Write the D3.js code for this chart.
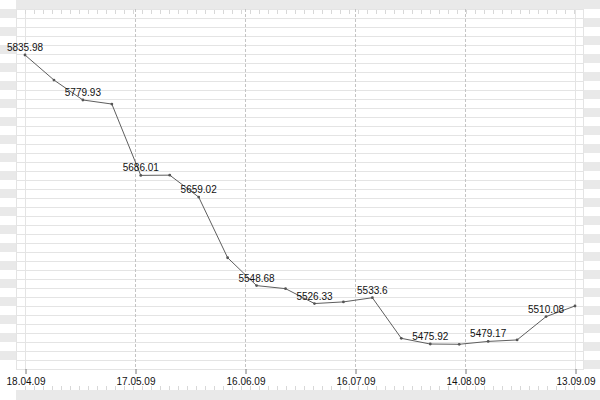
<!DOCTYPE html>
<html><head><meta charset="utf-8">
<script src="https://cdn.jsdelivr.net/npm/d3@7"></script>
<style>html,body{margin:0;padding:0;background:#fff;}svg{display:block;}</style>
</head><body><svg id="c" width="600" height="400"></svg>
<script>
const values = [5835.98, 5804.8, 5779.93, 5774.9, 5686.01, 5686.3, 5659.02, 5583.4, 5548.68, 5544.9,
                5526.33, 5528.4, 5533.6, 5483.0, 5475.92, 5475.6, 5479.17, 5481.0, 5510.08, 5523.3];
const labelEvery = 2;
const tickLabels = ["18.04.09","17.05.09","16.06.09","16.07.09","14.08.09","13.09.09"];

const W = 600, H = 400;
const plot = {left:16, right:584, top:9, bottom:369};
const svg = d3.select("#c");
const band = "#e9e9e9", grid = "#e4e4e4";

const x = d3.scaleLinear().domain([0, values.length-1]).range([25, 575]);
const y = d3.scaleLinear().domain([5444.8, 5893.3]).range([plot.bottom, plot.top]);

// outer bands
svg.append("rect").attr("x",plot.left).attr("y",0).attr("width",W-plot.left).attr("height",plot.top).attr("fill",band);
svg.append("rect").attr("x",plot.left).attr("y",390).attr("width",W-plot.left).attr("height",10).attr("fill",band);
// left stripes
for (let k=1; k*9 < plot.bottom; k+=2) {
  svg.append("rect").attr("x",0).attr("y",k*9).attr("width",plot.left).attr("height",9).attr("fill",band);
}
// right stripes
for (let k=2; k*9 < plot.bottom; k+=2) {
  svg.append("rect").attr("x",plot.right).attr("y",k*9).attr("width",W-plot.right).attr("height",9).attr("fill",band);
}
// horizontal grid lines
for (let k=1; k*9 <= plot.bottom; k++) {
  svg.append("line").attr("x1",plot.left).attr("x2",plot.right).attr("y1",k*9+0.5).attr("y2",k*9+0.5)
    .attr("stroke",grid).attr("stroke-width",1);
}
// vertical edges
[plot.left, 25, 575, plot.right-1].forEach(v => {
  svg.append("line").attr("x1",v+0.5).attr("x2",v+0.5).attr("y1",plot.top).attr("y2",plot.bottom+1)
    .attr("stroke",grid).attr("stroke-width",1);
});
// minor ticks top & bottom
for (let px=25; px<=575; px+=9) {
  svg.append("line").attr("x1",px+0.5).attr("x2",px+0.5).attr("y1",10).attr("y2",14).attr("stroke","#d8d8d8");
  svg.append("line").attr("x1",px+0.5).attr("x2",px+0.5).attr("y1",386).attr("y2",390).attr("stroke","#d8d8d8");
}

// x axis ticks
const n = tickLabels.length;
const tickPos = tickLabels.map((t,i) => i*(values.length-1)/(n-1));
const xAxis = d3.axisBottom(x).tickValues(tickPos).tickFormat((d,i)=>tickLabels[i]).tickSize(5).tickPadding(4);
const ax = svg.append("g").attr("transform",`translate(0.5,${plot.bottom})`).call(xAxis);
ax.select(".domain").remove();
ax.selectAll("line").attr("stroke","#777");
ax.selectAll("text").attr("font-family","'Liberation Sans',Arial,sans-serif").attr("font-size",10).attr("fill","#111");

// dashed vertical at interior ticks
svg.append("g").selectAll("line").data(tickPos.slice(1,-1)).join("line")
  .attr("x1",d=>Math.round(x(d))+0.5).attr("x2",d=>Math.round(x(d))+0.5)
  .attr("y1",plot.top).attr("y2",plot.bottom)
  .attr("stroke","#c4c4c4").attr("stroke-dasharray","3,2");

// line
const line = d3.line().x((d,i)=>x(i)).y(d=>y(d));
svg.append("path").datum(values).attr("d",line).attr("fill","none").attr("stroke","#5e5e5e").attr("stroke-width",1);
svg.append("g").selectAll("circle").data(values).join("circle")
  .attr("cx",(d,i)=>x(i)).attr("cy",d=>y(d)).attr("r",1.4).attr("fill","#555");

// value labels
svg.append("g").selectAll("text").data(values.map((v,i)=>({v,i})).filter(d=>d.i%labelEvery===0)).join("text")
  .attr("x",d=>x(d.i)).attr("y",d=>y(d.v)-4).attr("text-anchor","middle")
  .attr("font-family","'Liberation Sans',Arial,sans-serif").attr("font-size",10).attr("fill","#111")
  .text(d=>String(d.v));
</script></body></html>
